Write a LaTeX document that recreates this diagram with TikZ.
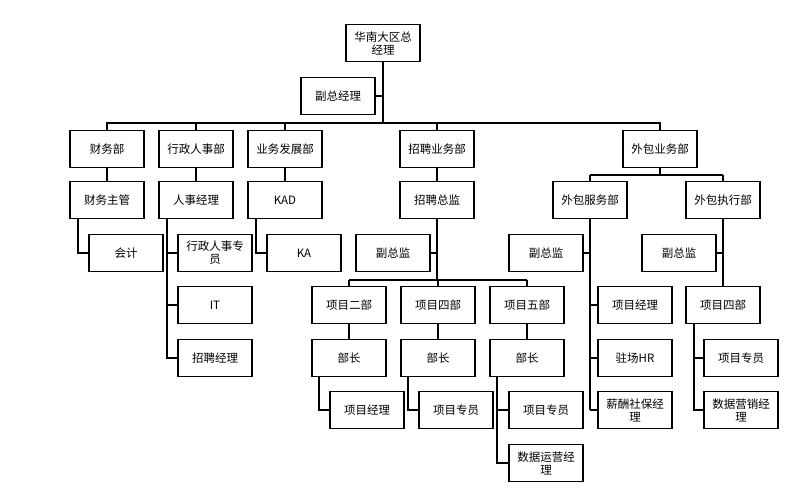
\documentclass[tikz,border=0pt]{standalone}
\usepackage{fontspec}
\setmainfont{Noto Sans CJK SC}
\begin{document}
\begin{tikzpicture}[x=1pt,y=-1pt,
  bx/.style={draw,line width=1.2pt,minimum width=74pt,minimum height=37pt,inner sep=1pt,align=center,font=\fontsize{11.5}{13}\selectfont,text width=70pt},
  ln/.style={line width=1.2pt}]
\useasboundingbox (0,0) rectangle (795,491);
\node[bx] (top) at (383,43) {华南大区总\\经理};
\node[bx] (fz) at (338,96) {副总经理};
\node[bx] (cw) at (107,149) {财务部};
\node[bx] (xz) at (196,149) {行政人事部};
\node[bx] (yw) at (285,149) {业务发展部};
\node[bx] (zp) at (437,149) {招聘业务部};
\node[bx] (wb) at (660,149) {外包业务部};
\node[bx] (cwzg) at (107,200) {财务主管};
\node[bx] (rsjl) at (196,200) {人事经理};
\node[bx] (kad) at (285,200) {KAD};
\node[bx] (zpzj) at (437,200) {招聘总监};
\node[bx] (wbfw) at (590,200) {外包服务部};
\node[bx] (wbzx) at (723,200) {外包执行部};
\node[bx] (kj) at (126,253) {会计};
\node[bx] (xzzy) at (215,253) {行政人事专\\员};
\node[bx] (ka) at (304,253) {KA};
\node[bx] (fzj1) at (393,253) {副总监};
\node[bx] (fzj2) at (546,253) {副总监};
\node[bx] (fzj3) at (679,253) {副总监};
\node[bx] (it) at (215,305) {IT};
\node[bx] (xm2) at (349,305) {项目二部};
\node[bx] (xm4) at (438,305) {项目四部};
\node[bx] (xm5) at (527,305) {项目五部};
\node[bx] (xmjlw) at (635,305) {项目经理};
\node[bx] (xm4w) at (723,305) {项目四部};
\node[bx] (zpjl) at (215,358) {招聘经理};
\node[bx] (bz2) at (349,358) {部长};
\node[bx] (bz4) at (438,358) {部长};
\node[bx] (bz5) at (527,358) {部长};
\node[bx] (zchr) at (635,358) {驻场HR};
\node[bx] (xmzyw) at (741,358) {项目专员};
\node[bx] (xmjl2) at (367,410) {项目经理};
\node[bx] (xmzy4) at (456,410) {项目专员};
\node[bx] (xmzy5) at (546,410) {项目专员};
\node[bx] (xc) at (635,410) {薪酬社保经\\理};
\node[bx] (sjyx) at (741,410) {数据营销经\\理};
\node[bx] (sjyy) at (546,463) {数据运营经\\理};
\begin{scope}[ln]
\draw (top.south) -- (383,123);
\draw (fz.east) -- (383,96);
\draw (107,123) -- (660,123);
\foreach \n in {cw,xz,yw,zp,wb} \draw (\n.north) |- (383,123);
\draw (cw) -- (cwzg); \draw (xz) -- (rsjl); \draw (yw) -- (kad); \draw (zp) -- (zpzj);
\draw (wb.south) -- (660,175); \draw (590,175) -- (723,175);
\draw (wbfw.north) -- (590,175); \draw (wbzx.north) -- (723,175);
\draw (78,218.5) |- (kj.west);
\foreach \n in {xzzy,it,zpjl} \draw (167,218.5) |- (\n.west);
\draw (256,218.5) |- (ka.west);
\draw (zpzj.south) -- (437,280); \draw (fzj1.east) -- (437,253);
\draw (349,280) -- (527,280);
\foreach \n in {xm2,xm4,xm5} \draw (\n.north) -- (\n.north |- 0,280);
\draw (xm2) -- (bz2); \draw (xm4) -- (bz4); \draw (xm5) -- (bz5);
\draw (319,376.5) |- (xmjl2.west);
\draw (408,376.5) |- (xmzy4.west);
\foreach \n in {xmzy5,sjyy} \draw (497,376.5) |- (\n.west);
\draw (wbfw.south) -- (590,410);
\draw (fzj2.east) -- (590,253);
\foreach \n in {xmjlw,zchr,xc} \draw (590,0 |- \n.west) -- (\n.west);
\draw (wbzx.south) -- (xm4w.north);
\draw (fzj3.east) -- (723,253);
\foreach \n in {xmzyw,sjyx} \draw (694,323.5) |- (\n.west);
\end{scope}
\end{tikzpicture}
\end{document}
